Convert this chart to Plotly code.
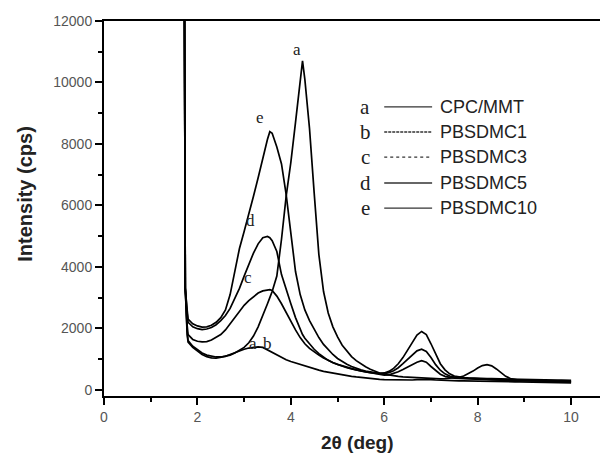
# -*- coding: utf-8 -*-

import plotly.graph_objs as go


TWO_THETA = [
    1.72, 1.74, 1.78,
    1.8, 1.9, 2.0, 2.1, 2.2, 2.3, 2.4, 2.5, 2.6, 2.7,
    2.8, 2.9, 3.0, 3.1, 3.2, 3.3, 3.4, 3.5,
    3.55,
    3.6, 3.7, 3.8, 3.9, 4.0, 4.1, 4.2,
    4.25,
    4.3, 4.4, 4.5, 4.6, 4.7, 4.8, 4.9, 5.0,
    5.1, 5.2, 5.3, 5.4, 5.5, 5.6, 5.7, 5.8, 5.9, 6.0,
    6.1, 6.2, 6.3, 6.4, 6.5, 6.6, 6.7, 6.8, 6.9, 7.0,
    7.1, 7.2, 7.3, 7.4, 7.5, 7.6, 7.7, 7.8, 7.9, 8.0,
    8.1, 8.2, 8.3, 8.4, 8.5, 8.6, 8.7, 8.8, 8.9, 9.0,
    9.1, 9.2, 9.3, 9.4, 9.5, 9.6, 9.7, 9.8, 9.9, 10.0,
]

CPC_MMT = [
    14000, 3300, 1900,
    1600, 1420, 1300, 1200, 1130, 1090, 1070, 1070, 1090, 1130,
    1200, 1280, 1380, 1530, 1750, 2050, 2400, 2800,
    3000,
    3200, 3700, 4900, 6300, 7400, 8700, 10000,
    10700,
    10100, 8500, 6400, 4400, 3200, 2500, 2050, 1720,
    1450, 1250, 1080, 950, 840, 750, 670, 600, 550, 510,
    480, 460, 440, 420, 410, 400, 390, 380, 375, 370,
    365, 360, 365, 375, 390, 410, 450, 520, 610, 710,
    790, 820, 780, 680, 550, 440, 370, 330, 310, 300,
    295, 290, 290, 285, 285, 280, 280, 275, 275, 270,
]

PBSDMC1 = [
    14000, 3300, 1800,
    1550, 1380, 1250, 1150, 1080, 1040, 1030, 1050, 1090, 1150,
    1210, 1270, 1320, 1360, 1390, 1400, 1380, 1300,
    1250,
    1200, 1120, 1050, 980, 920, 870, 820,
    800,
    770, 720, 680, 640, 600, 570, 540, 510,
    480, 460, 440, 420, 400, 380, 365, 350, 340, 330,
    325, 320, 320, 315, 315, 320, 330, 335, 335, 330,
    320, 310, 305, 300, 295, 290, 290, 285, 285, 280,
    280, 275, 275, 270, 270, 265, 265, 260, 260, 255,
    255, 250, 250, 245, 245, 240, 240, 235, 235, 230,
]

PBSDMC3 = [
    14000, 3300, 2100,
    1800, 1640, 1580, 1560, 1570, 1620, 1700, 1800, 1950, 2150,
    2350, 2550, 2750, 2900, 3030, 3150, 3220, 3250,
    3260,
    3230, 3050, 2800, 2500, 2200, 1950, 1700,
    1600,
    1500, 1350, 1230, 1130, 1040, 960, 890, 830,
    780, 730, 690, 650, 620, 590, 560, 530, 500, 480,
    490, 530, 590, 660, 740, 820, 900, 950, 900, 760,
    620, 510, 440, 400, 380, 370, 360, 350, 345, 340,
    335, 330, 325, 320, 315, 310, 305, 300, 300, 295,
    290, 290, 285, 285, 280, 280, 275, 275, 270, 270,
]

PBSDMC5 = [
    14000, 3300, 2500,
    2200, 2050, 1990, 1960, 1980, 2030, 2120, 2250, 2420, 2650,
    2950, 3300, 3700, 4100, 4450, 4750, 4950, 4990,
    4950,
    4850, 4500, 3750, 3250, 2800, 2350, 1950,
    1800,
    1680, 1480, 1320, 1180, 1060, 960, 880, 820,
    770, 720, 680, 640, 610, 580, 560, 540, 530, 530,
    560, 620, 720, 850, 1000, 1150, 1270, 1320, 1250, 1050,
    820, 640, 520, 450, 410, 390, 380, 370, 360, 355,
    350, 345, 340, 335, 330, 325, 320, 320, 315, 310,
    310, 305, 305, 300, 300, 295, 295, 290, 290, 285,
]

PBSDMC10 = [
    14000, 3300, 2600,
    2300, 2150, 2080, 2040, 2050, 2100, 2200, 2350, 2600, 3100,
    3900, 4600, 5150, 5700, 6300, 6900, 7550, 8150,
    8400,
    8350, 7900, 7350, 6350, 5000, 3850, 3100,
    2850,
    2600, 2250, 1950, 1700, 1480, 1300, 1150, 1020,
    920, 830, 760, 700, 650, 610, 580, 550, 540, 550,
    600, 700, 850, 1050, 1300, 1550, 1780, 1900, 1800, 1500,
    1150, 850, 650, 520, 450, 420, 400, 390, 380, 380,
    375, 370, 365, 360, 355, 350, 345, 340, 340, 335,
    330, 330, 325, 325, 320, 320, 315, 315, 310, 310,
]

SERIES = [
    ("a", "CPC/MMT", CPC_MMT, "solid"),
    ("b", "PBSDMC1", PBSDMC1, "3px,1px"),
    ("c", "PBSDMC3", PBSDMC3, "dot"),
    ("d", "PBSDMC5", PBSDMC5, "solid"),
    ("e", "PBSDMC10", PBSDMC10, "solid"),
]

# curve letters placed next to the peaks (x, y in data units)
PEAK_LABELS = [
    ("a", 4.13, 11080),
    ("e", 3.34, 8870),
    ("d", 3.13, 5525),
    ("c", 3.08, 3670),
    ("a", 3.19, 1500),
    ("b", 3.51, 1500),
]

SANS = "Liberation Sans, Arial, sans-serif"
SERIF = "Liberation Serif, Times New Roman, serif"

fig = go.Figure()

for letter, name, values, dash in SERIES:
    assert len(values) == len(TWO_THETA), name
    fig.add_trace(
        go.Scatter(
            x=TWO_THETA,
            y=values,
            mode="lines",
            name=name,
            line=dict(color="black", width=1.7),
            showlegend=False,
        )
    )

for letter, x, y in PEAK_LABELS:
    fig.add_annotation(
        x=x, y=y, text=letter, showarrow=False,
        font=dict(family=SERIF, size=17, color="#222"),
    )

# hand-made legend: letter, line sample, name
row_y = [0.771, 0.704, 0.637, 0.568, 0.501]
for (letter, name, values, dash), ry in zip(SERIES, row_y):
    fig.add_annotation(
        xref="paper", yref="paper", x=0.518, y=ry, text=letter,
        xanchor="center", yanchor="middle",
        showarrow=False, font=dict(family=SERIF, size=21, color="#222"),
    )
    fig.add_shape(
        type="line", xref="paper", yref="paper",
        x0=0.556, x1=0.651, y0=ry, y1=ry,
        line=dict(color="#333", width=1.3, dash=dash),
    )
    fig.add_annotation(
        xref="paper", yref="paper", x=0.663, y=ry, text=name,
        xanchor="left", yanchor="middle", showarrow=False,
        font=dict(family=SANS, size=18, color="#222"),
    )

fig.add_annotation(
    xref="paper", yref="paper", x=-0.157, y=0.539, text="<b>Intensity (cps)</b>",
    xanchor="center", yanchor="middle",
    textangle=-90, showarrow=False, font=dict(family=SANS, size=20, color="#222"),
)
fig.add_annotation(
    xref="paper", yref="paper", x=0.502, y=-0.158, text="<b>2θ (deg)</b>",
    xanchor="center", yanchor="bottom",
    showarrow=False, font=dict(family=SANS, size=19, color="#222"),
)

fig.update_xaxes(
    range=[0, 10.79],
    tick0=0, dtick=2,
    ticks="outside", ticklen=7, tickwidth=1.5, tickcolor="black",
    minor=dict(ticks="outside", ticklen=4, tickwidth=1.5, tickcolor="black", dtick=1, tick0=0),
    showline=True, linewidth=2, linecolor="black", mirror=True,
    showgrid=False, zeroline=False,
    tickfont=dict(family=SANS, size=14, color="#555"),
)
fig.update_yaxes(
    range=[-200, 12000],
    tick0=0, dtick=2000, tickformat="d",
    ticks="outside", ticklen=7, tickwidth=1.5, tickcolor="black",
    minor=dict(ticks="outside", ticklen=4, tickwidth=1.5, tickcolor="black", dtick=1000, tick0=0),
    showline=True, linewidth=2, linecolor="black",
    showgrid=False, zeroline=False,
    tickfont=dict(family=SANS, size=14, color="#555"),
)

# the page body adds an 8px margin, so the figure is 8px smaller each way
fig.update_layout(
    autosize=False,
    width=600,
    height=448,
    margin=dict(l=96, r=0, t=13, b=60),
    plot_bgcolor="white",
    paper_bgcolor="white",
)

fig.write_html("out.html")
